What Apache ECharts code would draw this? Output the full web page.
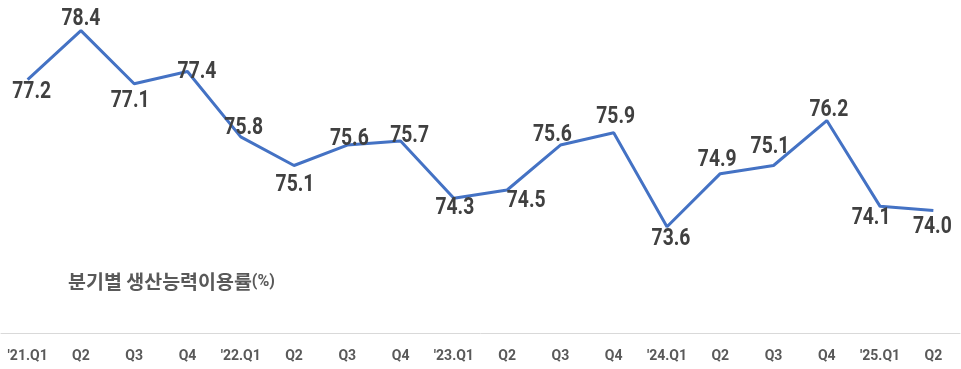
<!DOCTYPE html>
<html>
<head>
<meta charset="utf-8">
<script src="https://cdn.jsdelivr.net/npm/echarts@6/dist/echarts.min.js"></script>
<style>
html,body{margin:0;padding:0;background:#fff;}
#main{width:961px;height:369px;}
</style>
</head>
<body>
<div id="main"></div>
<script>
const categories = ["'21.Q1","Q2","Q3","Q4","'22.Q1","Q2","Q3","Q4","'23.Q1","Q2","Q3","Q4","'24.Q1","Q2","Q3","Q4","'25.Q1","Q2"];
const utilization = [77.2,78.4,77.1,77.4,75.8,75.1,75.6,75.7,74.3,74.5,75.6,75.9,73.6,74.9,75.1,76.2,74.1,74.0];
const titleText = '분기별 생산능력이용률';
const titleUnit = '(%)';

function buildOption() {
  // label placement (dx, dy) relative to each point — style only
  const labelShift = [
    [4,13],[0,-11.5],[-4,17],[9.5,0.5],[3,-9],[1,20],[2,-6],[9,-5],[1,10],
    [19,11],[-8,-10],[2,-16],[4,12.5],[-3,-13],[-3.5,-18.5],[2,-10.5],[-9,12],[-1,16.5]
  ];
  return {
    animation: false,
    grid: { left: 1, right: 1, top: 0, bottom: 36, containLabel: false },
    xAxis: {
      type: 'category',
      data: categories,
      boundaryGap: true,
      axisLine: { show: true, lineStyle: { color: '#d9d9d9', width: 1 } },
      axisTick: { show: false },
      axisLabel: {
        color: '#595959',
        fontFamily: 'Roboto, sans-serif',
        fontWeight: 'bold',
        fontSize: 14,
        margin: 16,
        interval: 0
      }
    },
    yAxis: {
      type: 'value',
      min: 71,
      max: 79.15,
      show: false,
      splitLine: { show: false }
    },
    graphic: [{
      type: 'text',
      x: 68,
      y: 282,
      style: {
        text: '{a|' + titleText + '}{b|' + titleUnit + '}',
        verticalAlign: 'middle',
        fill: '#595959',
        rich: {
          a: { fontFamily: '"Noto Sans CJK KR", sans-serif', fontWeight: 'bold', fontSize: 19.5, fill: '#595959' },
          b: { fontFamily: 'Roboto, sans-serif', fontWeight: 'bold', fontSize: 16, fill: '#595959' }
        }
      }
    }],
    series: [{
      type: 'line',
      data: utilization,
      symbol: 'none',
      lineStyle: { color: '#4472C4', width: 3 },
      z: 2
    }, {
      type: 'custom',
      data: utilization.map((v, i) => [i, v]),
      encode: { x: 0, y: 1 },
      silent: true,
      z: 3,
      renderItem: function (params, api) {
        const p = api.coord([api.value(0), api.value(1)]);
        const s = labelShift[params.dataIndex];
        return {
          type: 'text',
          x: p[0] + s[0],
          y: p[1] + s[1],
          scaleX: 0.84,
          style: {
            text: api.value(1).toFixed(1),
            align: 'center',
            verticalAlign: 'middle',
            fontFamily: 'Roboto, sans-serif',
            fontWeight: 'bold',
            fontSize: 23,
            fill: '#404040'
          }
        };
      }
    }]
  };
}

const chart = echarts.init(document.getElementById('main'), null, { renderer: 'canvas' });
chart.setOption(buildOption());
</script>
</body>
</html>
